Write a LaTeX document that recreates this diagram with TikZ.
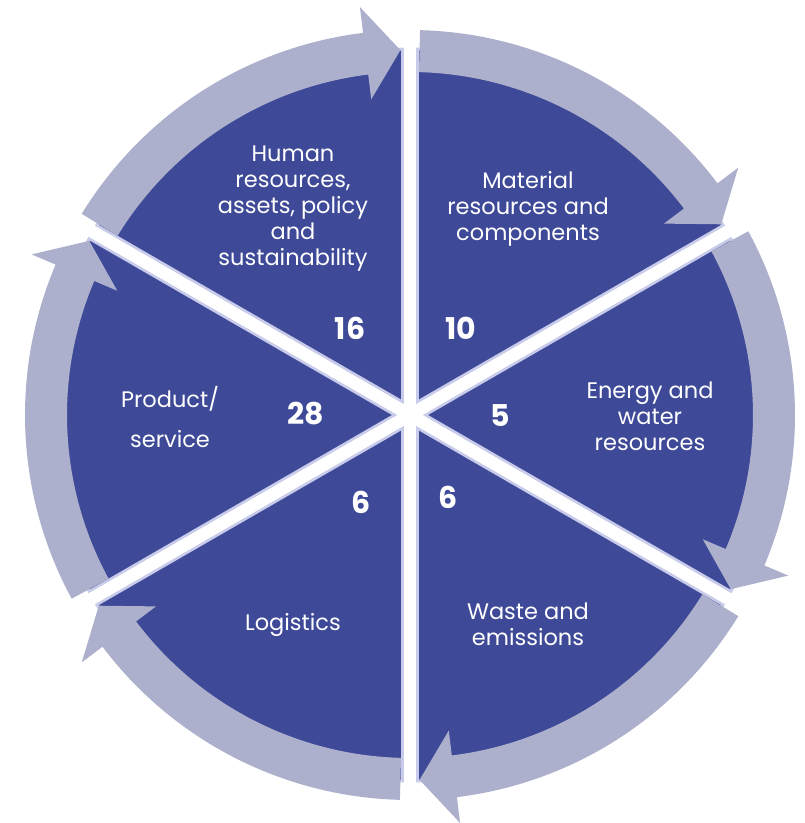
\documentclass[tikz,border=0pt]{standalone}
\usepackage{fontspec}
\setmainfont{Poppins}
\definecolor{sectorblue}{RGB}{62,73,152}
\definecolor{arrowcol}{RGB}{173,176,204}
\definecolor{rimcol}{RGB}{200,204,234}
\tikzset{
  lbl/.style={text=white, align=center, font=\fontsize{22.5}{26}\selectfont, inner sep=0pt},
  num/.style={text=white, font=\fontsize{30}{30}\selectfont\bfseries, inner sep=0pt},
  gapback/.style={draw=rimcol, line width=18pt},
  gapfront/.style={draw=white, line width=12.5pt},
}
\newcommand\cyclearrow[2]{%
  \fill[arrowcol] (#1:343) arc[start angle=#1, end angle=#2+5.5, radius=343]
    -- (#2+5.5:318) -- (#2:365) -- (#2+5.5:411) -- (#2+5.5:385)
    arc[start angle=#2+5.5, end angle=#1, radius=385] -- cycle;}
\begin{document}
\begin{tikzpicture}[x=1pt,y=1pt]
\useasboundingbox (-410,-408) rectangle (395,415);
% pie
\fill[sectorblue, draw=rimcol, line width=3pt] (0,0) circle[radius=366];
\foreach \a in {90,30,-30,-90,-150,150} {\draw[gapback] (0,0) -- (\a:367);}
\foreach \a in {90,30,-30,-90,-150,150} {\draw[gapfront] (0,0) -- (\a:380);}
\fill[white] (0,0) circle[radius=11];
% arrows (clockwise)
\cyclearrow{148.5}{91.5}
\cyclearrow{88.5}{31.5}
\cyclearrow{28.5}{-28.5}
\cyclearrow{-31.5}{-88.5}
\cyclearrow{-91.5}{-148.5}
\cyclearrow{208.5}{151.5}
% labels
\node[lbl] (human) at (-117,206) {Human\\resources,\\assets, policy\\and\\sustainability};
\node[lbl] (material) at (118,206) {Material\\resources and\\components};
\node[lbl] (energy) at (240,-1) {Energy and\\water\\resources};
\node[lbl] (waste) at (118,-209) {Waste and\\emissions};
\node[lbl] (logistics) at (-117,-210) {Logistics};
\node[lbl, font=\fontsize{22.5}{40}\selectfont] (product) at (-240,-2) {Product/\\service};
% numbers
\node[num] (n16) at (-60,87) {16};
\node[num] (n10) at (51,87) {10};
\node[num] (n5) at (90,-1) {5};
\node[num] (n28) at (-104,1) {28};
\node[num] (n6a) at (-49,-87) {6};
\node[num] (n6b) at (38,-82) {6};
\end{tikzpicture}
\end{document}
